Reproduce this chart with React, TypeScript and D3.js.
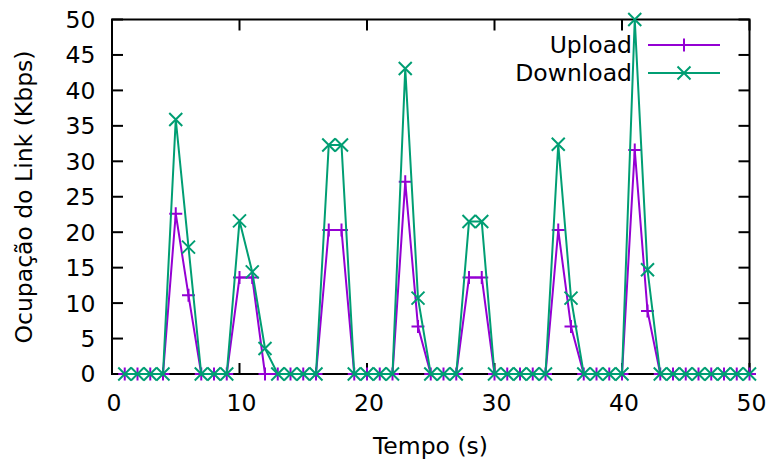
import React from "react";
import * as d3 from "d3";

const times = [1,2,3,4,5,6,7,8,9,10,11,12,13,14,15,16,17,18,19,20,21,22,23,24,25,26,27,28,29,30,31,32,33,34,35,36,37,38,39,40,41,42,43,44,45,46,47,48,49,50];
const upload = [0,0,0,0,22.6,11.1,0,0,0,13.6,13.6,0,0,0,0,0,20.3,20.3,0,0,0,0,27.1,6.7,0,0,0,13.6,13.6,0,0,0,0,0,20.3,6.7,0,0,0,0,31.6,8.9,0,0,0,0,0,0,0,0];
const download = [0,0,0,0,35.9,17.9,0,0,0,21.6,14.4,3.6,0,0,0,0,32.3,32.3,0,0,0,0,43.1,10.7,0,0,0,21.5,21.5,0,0,0,0,0,32.4,10.7,0,0,0,0,50,14.7,0,0,0,0,0,0,0,0];
const xTicks = [0,10,20,30,40,50];
const yTicks = [0,5,10,15,20,25,30,35,40,45,50];
const seriesNames = ["Upload", "Download"];
const colors = ["#9400d3", "#009e73"];

const W = 769, H = 459;
const L = 112, R = 749.5, T = 19.5, B = 374;
const FONT = "'DejaVu Sans', sans-serif";
const FS = 23.5;
const TICK = 11;
const MS = 6.5;

function Marker({ x, y, kind, color }: { x: number; y: number; kind: number; color: string }) {
  if (kind === 0) {
    return (
      <path d={`M${x - MS},${y}H${x + MS}M${x},${y - MS}V${y + MS}`} stroke={color} strokeWidth={2} fill="none" />
    );
  }
  return (
    <path d={`M${x - MS},${y - MS}L${x + MS},${y + MS}M${x - MS},${y + MS}L${x + MS},${y - MS}`} stroke={color} strokeWidth={2} fill="none" />
  );
}

export default function App() {
  const x = d3.scaleLinear().domain([0, 50]).range([L, R]);
  const y = d3.scaleLinear().domain([0, 50]).range([B, T]);
  const data = [upload, download];
  const line = d3.line<number>().x((_, i) => x(times[i])).y((d) => y(d));

  return (
    <svg width={W} height={H} style={{ position: "absolute", left: 0, top: 0, background: "#fff" }} fontFamily={FONT}>
      <rect x={0} y={0} width={W} height={H} fill="#fff" />
      {yTicks.map((t) => (
        <g key={"y" + t}>
          <line x1={L} x2={L + TICK} y1={y(t)} y2={y(t)} stroke="#000" strokeWidth={2} />
          <line x1={R} x2={R - TICK} y1={y(t)} y2={y(t)} stroke="#000" strokeWidth={2} />
          <text x={95.5} y={y(t)} dy="0.36em" textAnchor="end" fontSize={FS} fill="#000">{t}</text>
        </g>
      ))}
      {xTicks.map((t) => (
        <g key={"x" + t}>
          <line x1={x(t)} x2={x(t)} y1={B} y2={B - TICK} stroke="#000" strokeWidth={2} />
          <line x1={x(t)} x2={x(t)} y1={T} y2={T + TICK} stroke="#000" strokeWidth={2} />
          <text x={x(t) + 2} y={411} textAnchor="middle" fontSize={FS} fill="#000">{t}</text>
        </g>
      ))}
      <rect x={L} y={T} width={R - L} height={B - T} fill="none" stroke="#000" strokeWidth={2} />
      {data.map((vals, k) => (
        <g key={"s" + k}>
          <path d={line(vals) || ""} fill="none" stroke={colors[k]} strokeWidth={2} strokeLinejoin="miter" />
          {vals.map((v, i) => (
            <Marker key={i} x={x(times[i])} y={y(v)} kind={k} color={colors[k]} />
          ))}
        </g>
      ))}
      {seriesNames.map((n, k) => {
        const ly = 45 + k * 28;
        return (
          <g key={"l" + k}>
            <text x={632} y={ly} dy="0.36em" textAnchor="end" fontSize={FS} fill="#000">{n}</text>
            <line x1={648} x2={720} y1={ly} y2={ly} stroke={colors[k]} strokeWidth={2} />
            <Marker x={684} y={ly} kind={k} color={colors[k]} />
          </g>
        );
      })}
      <text x={430.5} y={454} textAnchor="middle" fontSize={FS} fill="#000">Tempo (s)</text>
      <text transform={`translate(31.5,197) rotate(-90)`} textAnchor="middle" fontSize={FS} fill="#000">Ocupação do Link (Kbps)</text>
    </svg>
  );
}
